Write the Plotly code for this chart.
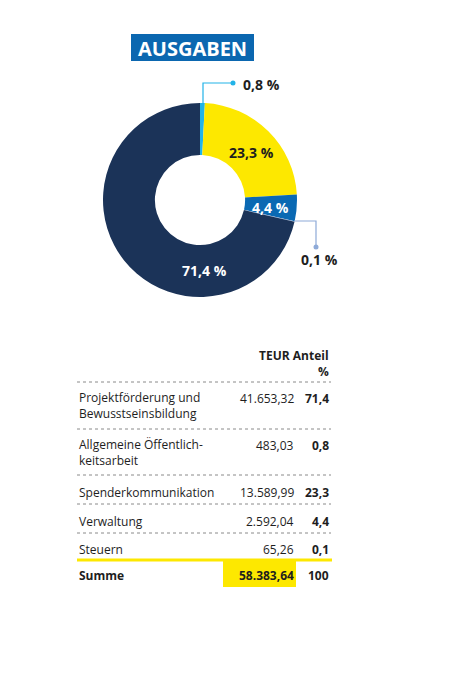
import plotly.graph_objects as go

W, H = 463, 699

# ---- data ----
categories = ["Projektförderung und<br>Bewusstseinsbildung", "Allgemeine Öffentlich-<br>keitsarbeit",
              "Spenderkommunikation", "Verwaltung", "Steuern"]
teur = [41653.32, 483.03, 13589.99, 2592.04, 65.26]
anteil = [71.4, 0.8, 23.3, 4.4, 0.1]
summe_teur = 58383.64
summe_anteil = 100
pie_order = [1, 2, 3, 4, 0]  # clockwise from 12 o'clock
colors = ["#1b3358", "#22b3e8", "#fde800", "#0a69b3", "#8eaad8"]
title = "AUSGABEN"
header = ["TEUR", "Anteil", "%"]

FONT = "Open Sans"
DARK = "#1e1e1e"


def px(x):
    return x / W


def py(y):
    return 1 - y / H


def fmt_de(v, d=2):
    s = f"{v:,.{d}f}"
    return s.replace(",", "X").replace(".", ",").replace("X", ".")


def pct(v):
    return fmt_de(v, 1) + " %"


fig = go.Figure()
fig.add_trace(go.Pie(
    values=[anteil[i] for i in pie_order],
    labels=[categories[i] for i in pie_order],
    marker=dict(colors=[colors[i] for i in pie_order], line=dict(width=0)),
    sort=False, direction="clockwise", rotation=0, hole=0.465,
    textinfo="none", hoverinfo="label+percent", showlegend=False,
    domain=dict(x=[px(103), px(297)], y=[py(297), py(103)]),
))

shapes = []
ann = []

# title box
shapes.append(dict(type="rect", xref="paper", yref="paper", x0=px(131), x1=px(254), y0=py(61), y1=py(34),
                   fillcolor="#0b67b0", line=dict(width=0), layer="below"))
ann.append(dict(text=f"<b>{title}</b>", x=px(192.5), y=py(48), font=dict(family=FONT, size=20, color="white")))

# in-slice labels
ann.append(dict(text=f"<b>{pct(anteil[2])}</b>", x=px(251), y=py(152), font=dict(family=FONT, size=14, color=DARK)))
ann.append(dict(text=f"<b>{pct(anteil[3])}</b>", x=px(270), y=py(207), font=dict(family=FONT, size=14, color="white")))
ann.append(dict(text=f"<b>{pct(anteil[0])}</b>", x=px(204), y=py(270), font=dict(family=FONT, size=14, color="white")))

# leader 0,8 %
shapes.append(dict(type="path", xref="paper", yref="paper",
                   path=f"M {px(203)} {py(104)} L {px(203)} {py(83)} L {px(233)} {py(83)}",
                   line=dict(color="#22b3e8", width=1.2)))
shapes.append(dict(type="circle", xref="paper", yref="paper", x0=px(230.5), x1=px(235.5), y0=py(85.5), y1=py(80.5),
                   fillcolor="#22b3e8", line=dict(width=0)))
ann.append(dict(text=f"<b>{pct(anteil[1])}</b>", x=px(241), y=py(85), xanchor="left",
                font=dict(family=FONT, size=14, color=DARK)))

# leader 0,1 %
shapes.append(dict(type="path", xref="paper", yref="paper",
                   path=f"M {px(294)} {py(221)} L {px(316)} {py(221)} L {px(316)} {py(247)}",
                   line=dict(color="#8eaad8", width=1.2)))
shapes.append(dict(type="circle", xref="paper", yref="paper", x0=px(313.5), x1=px(318.5), y0=py(249.5), y1=py(244.5),
                   fillcolor="#8eaad8", line=dict(width=0)))
ann.append(dict(text=f"<b>{pct(anteil[4])}</b>", x=px(319), y=py(259),
                font=dict(family=FONT, size=14, color=DARK)))

# ---- table ----
XL, XT, XA = 77, 296, 331
FS = 12
ann.append(dict(text=f"<b>{header[0]} {header[1]}</b>", x=px(XA), y=py(355), xanchor="right",
                font=dict(family=FONT, size=FS, color=DARK)))
ann.append(dict(text=f"<b>{header[2]}</b>", x=px(XA), y=py(371), xanchor="right", font=dict(family=FONT, size=FS, color=DARK)))

row_first_y = [398, 445, 492, 521, 549]
row_center_y = [405.5, 452.5, 492, 521, 549]
sep_y = [382, 429, 475, 504, 533]
for yy in sep_y:
    shapes.append(dict(type="line", xref="paper", yref="paper", x0=px(77), x1=px(331), y0=py(yy), y1=py(yy),
                       line=dict(color="#8a8a8a", width=1, dash="dot")))
for i, cat in enumerate(categories):
    ann.append(dict(text=cat, x=px(XL), y=py(row_center_y[i]), xanchor="left", align="left",
                    font=dict(family=FONT, size=FS, color=DARK)))
    ann.append(dict(text=fmt_de(teur[i]), x=px(XT), y=py(row_first_y[i]), xanchor="right",
                    font=dict(family=FONT, size=FS, color=DARK)))
    ann.append(dict(text=f"<b>{fmt_de(anteil[i], 1)}</b>", x=px(XA), y=py(row_first_y[i]), xanchor="right",
                    font=dict(family=FONT, size=FS, color=DARK)))

# summe
shapes.append(dict(type="line", xref="paper", yref="paper", x0=px(77), x1=px(332), y0=py(560), y1=py(560),
                   line=dict(color="#fde800", width=3)))
shapes.append(dict(type="rect", xref="paper", yref="paper", x0=px(223), x1=px(296), y0=py(587), y1=py(560),
                   fillcolor="#fde800", line=dict(width=0), layer="below"))
ann.append(dict(text="<b>Summe</b>", x=px(XL), y=py(575), xanchor="left", font=dict(family=FONT, size=FS, color=DARK)))
ann.append(dict(text=f"<b>{fmt_de(summe_teur)}</b>", x=px(XT), y=py(575), xanchor="right",
                font=dict(family=FONT, size=FS, color=DARK)))
ann.append(dict(text=f"<b>{summe_anteil}</b>", x=px(XA), y=py(575), xanchor="right",
                font=dict(family=FONT, size=FS, color=DARK)))

for a in ann:
    a.setdefault("xref", "paper")
    a.setdefault("yref", "paper")
    a.setdefault("showarrow", False)
    a.setdefault("yanchor", "middle")
    a.setdefault("xanchor", "center")

fig.update_layout(width=W, height=H, margin=dict(l=0, r=0, t=0, b=0),
                  paper_bgcolor="white", plot_bgcolor="white",
                  shapes=shapes, annotations=ann, font=dict(family=FONT))
fig.write_html("out.html", config={"displayModeBar": False})
